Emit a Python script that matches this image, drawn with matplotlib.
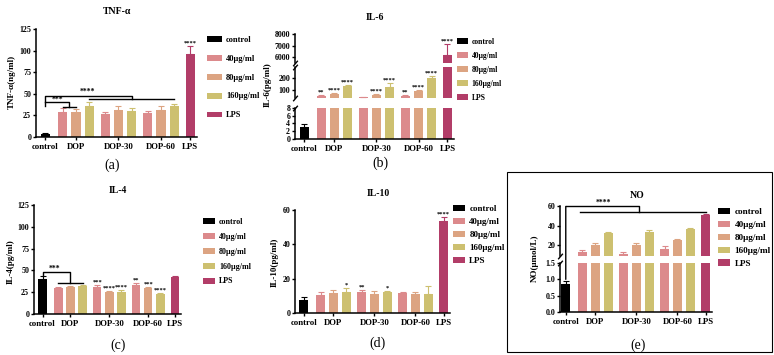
import matplotlib
matplotlib.use("Agg")
import matplotlib.pyplot as plt
from matplotlib.patches import Rectangle, ConnectionPatch

plt.rcParams["font.family"] = ["Liberation Serif", "DejaVu Serif"]
plt.rcParams["font.weight"] = "bold"
plt.rcParams["axes.linewidth"] = 1.1

# ---- data (order: control, DOP 40/80/160, DOP-30 40/80/160, DOP-60 40/80/160, LPS)
groups = ["control", "DOP", "DOP-30", "DOP-60", "LPS"]
legend_labels = ["control", "40μg/ml", "80μg/ml", "160μg/ml", "LPS"]

tnf_mean = [4.0, 29.0, 28.5, 36.0, 27.0, 31.0, 30.0, 27.3, 31.0, 35.5, 96.0]
tnf_err = [1.0, 4.0, 3.5, 4.5, 2.0, 4.5, 3.5, 3.0, 4.5, 3.0, 9.0]
tnf_stars = ["", "", "", "", "", "", "", "", "", "", "****"]

il6_mean = [3.1, 45, 64, 128, 38, 53, 122, 50, 86, 195, 6200]
il6_err = [0.8, 6, 8, 15, 4, 8, 30, 6, 12, 18, 900]
il6_stars = ["", "**", "****", "****", "", "****", "****", "**", "****", "****", "****"]

il4_mean = [40.0, 29.5, 31.2, 32.0, 31.0, 24.8, 24.8, 33.0, 29.5, 22.8, 42.6]
il4_err = [3.5, 1.5, 1.2, 1.0, 2.0, 1.5, 2.2, 2.3, 1.5, 1.8, 1.4]
il4_stars = ["", "", "", "", "***", "****", "****", "**", "***", "****", ""]

il10_mean = [7.7, 10.3, 11.4, 12.2, 12.2, 11.2, 12.0, 11.4, 11.2, 11.2, 53.8]
il10_err = [1.6, 2.1, 2.1, 2.3, 1.3, 1.4, 0.8, 0.8, 1.0, 4.7, 1.9]
il10_stars = ["", "", "", "*", "**", "", "*", "", "", "", "****"]

no_mean = [0.87, 12.6, 20.0, 32.0, 11.2, 20.7, 33.7, 16.5, 25.0, 36.5, 51.2]
no_err = [0.07, 2.1, 1.8, 1.2, 2.0, 1.1, 2.1, 2.8, 1.3, 1.0, 1.1]

c40, c80, c160, clps = "#DC8A8C", "#DCA482", "#CDC070", "#B23D68"
colors = ["black", c40, c80, c160, c40, c80, c160, c40, c80, c160, clps]

# bar positions: control, three groups of three, LPS
xpos = [0.0] + [1.3 + 3.2 * g + i for g in range(3) for i in range(3)] + [10.9]
tick_pos = [xpos[0], xpos[2], xpos[5], xpos[8], xpos[10]]

W, H = 774, 355
fig = plt.figure(figsize=(W / 100, H / 100), dpi=100)


def box(l, t, r, b):
    return [l / W, 1 - b / H, (r - l) / W, (b - t) / H]


def ftext(x, y, s, **kw):
    fig.text(x / W, 1 - y / H, s, ha="center", va="center", **kw)


def draw(ax, means, errs, bottom=True, xl=-0.7):
    bars = ax.bar(xpos, means, width=0.7, color=colors, zorder=2)
    for x, m, e, c in zip(xpos, means, errs, colors):
        ax.errorbar(x, m, yerr=[[0], [e]], color=c, lw=0.8, capsize=2,
                    capthick=0.8, zorder=1)
    for s in ["top", "right"]:
        ax.spines[s].set_visible(False)
    ax.set_xlim(xl, 11.4)
    ax.tick_params(axis="y", labelsize=5.7, length=2.5, width=1, pad=1)
    if bottom:
        ax.set_xticks(tick_pos)
        ax.set_xticklabels(groups, fontsize=6.3)
        ax.tick_params(axis="x", length=2.5, width=1, pad=2)
    else:
        ax.spines["bottom"].set_visible(False)
        ax.tick_params(axis="x", bottom=False, labelbottom=False)
    return bars


def stars(ax, means, errs, marks, lo=None):
    for x, m, e, s in zip(xpos, means, errs, marks):
        if s and (lo is None or lo[0] <= m + e < lo[1]):
            ax.annotate(s, (x, m + e), xytext=(0, 0.3), textcoords="offset points",
                        ha="center", va="bottom", fontsize=4.6)


def brk(ax, where):
    kw = dict(marker=[(-1, -1.2), (1, 1.2)], markersize=4, linestyle="none",
              color="k", mec="k", mew=1, clip_on=False, transform=ax.transAxes)
    ax.plot([0], [where], **kw)


def legend(handles, x, y, fs, hl, hh, ls):
    fig.legend(handles, legend_labels, loc="upper left",
               bbox_to_anchor=(x / W, 1 - y / H), frameon=False, fontsize=fs,
               handlelength=hl, handleheight=hh, handletextpad=0.5,
               labelspacing=ls, borderpad=0, borderaxespad=0)


def pick(bars):
    p = bars.patches
    return [p[0], p[1], p[2], p[3], p[10]]


# ---- (a) TNF-a
ax = fig.add_axes(box(36, 29, 197, 137))
bars = draw(ax, tnf_mean, tnf_err)
ax.set_ylim(0, 125)
ax.set_yticks([0, 25, 50, 75, 100, 125])
stars(ax, tnf_mean, tnf_err, tnf_stars)
lk = dict(color="black", lw=1, clip_on=False)
ax.plot([0, 0, 6.5, 6.5], [36, 47.7, 47.7, 43.8], **lk)
ax.plot([3.3, 9.7], [43.8, 43.8], **lk)
ax.plot([0, 1.8, 1.8], [40.4, 40.4, 35], **lk)
ax.plot([1.3, 2.3], [35, 35], **lk)
ax.text(3.2, 52, "****", ha="center", va="center", fontsize=5.5)
ax.text(0.9, 43.5, "***", ha="center", va="center", fontsize=5.5)
legend(pick(bars), 207, 36, 6, 1.8, 0.7, 1.3)
ftext(117, 11, "TNF-α", fontsize=7)
ftext(12, 82, "TNF-α(ng/ml)", fontsize=6.5, rotation=90)
ftext(112, 165, "(a)", fontsize=10, fontweight="normal")

# ---- (b) IL-6, broken axis
ax_t = fig.add_axes(box(295, 34, 454, 63))
ax_m = fig.add_axes(box(295, 67, 454, 98))
ax_b = fig.add_axes(box(295, 108, 454, 139))
draw(ax_t, il6_mean, il6_err, bottom=False)
draw(ax_m, il6_mean, il6_err, bottom=False)
bars = draw(ax_b, il6_mean, il6_err)
ax_t.set_ylim(5500, 8000)
ax_t.set_yticks([6000, 7000, 8000])
ax_m.set_ylim(30, 290)
ax_m.set_yticks([100, 200])
ax_b.set_ylim(0, 8)
ax_b.set_yticks([0, 2, 4, 6, 8])
stars(ax_m, il6_mean, il6_err, il6_stars, lo=(30, 1000))
stars(ax_t, il6_mean, il6_err, il6_stars, lo=(1000, 1e6))
brk(ax_t, 0)
brk(ax_m, 1)
brk(ax_m, 0)
brk(ax_b, 1)
legend(pick(bars), 457, 38, 5.5, 1.4, 0.8, 0.78)
ftext(375, 17, "IL-6", fontsize=7)
ftext(268, 85, "IL-6(pg/ml)", fontsize=6.5, rotation=90)
ftext(380, 163, "(b)", fontsize=10, fontweight="normal")

# ---- (c) IL-4
ax = fig.add_axes(box(34, 205, 181, 314))
bars = draw(ax, il4_mean, il4_err)
ax.set_ylim(0, 125)
ax.set_yticks([0, 25, 50, 75, 100, 125])
stars(ax, il4_mean, il4_err, il4_stars)
ax.plot([0, 0, 2.3, 2.3], [44, 48, 48, 36], **lk)
ax.plot([1.3, 3.3], [36, 36], **lk)
ax.text(1.0, 51.5, "***", ha="center", va="center", fontsize=5.5)
legend(pick(bars), 203, 218, 5.8, 1.5, 0.8, 0.85)
ftext(118, 191, "IL-4", fontsize=7)
ftext(11, 262, "IL-4(pg/ml)", fontsize=6.5, rotation=90)
ftext(118, 345, "(c)", fontsize=10, fontweight="normal")

# ---- (d) IL-10
ax = fig.add_axes(box(295, 210, 450, 313))
bars = draw(ax, il10_mean, il10_err)
ax.set_ylim(0, 60)
ax.set_yticks([0, 20, 40, 60])
stars(ax, il10_mean, il10_err, il10_stars)
legend(pick(bars), 453, 205, 6.5, 1.3, 0.7, 0.52)
ftext(378, 193, "IL-10", fontsize=7)
ftext(275, 262, "IL-10(pg/ml)", fontsize=6.5, rotation=90)
ftext(378, 343, "(d)", fontsize=10, fontweight="normal")

# ---- (e) NO, broken axis
ax_hi = fig.add_axes(box(560, 206, 712, 256))
ax_lo = fig.add_axes(box(560, 263, 712, 312))
draw(ax_hi, no_mean, no_err, bottom=False, xl=-0.45)
bars = draw(ax_lo, no_mean, no_err, xl=-0.45)
ax_hi.set_ylim(9, 60)
ax_hi.set_yticks([20, 40, 60])
ax_lo.set_ylim(0, 1.5)
ax_lo.set_yticks([0.0, 0.5, 1.0, 1.5])
ax_lo.set_yticklabels(["0.0", "0.5", "1.0", "1.5"])
brk(ax_hi, 0)
brk(ax_lo, 1)
ax_hi.plot([0, 5.7, 5.7], [59.5, 59.5, 54], **lk)
ax_hi.plot([1.1, 10.9], [54, 54], **lk)
ax_hi.text(2.9, 63, "****", ha="center", va="center", fontsize=5.5)
fig.add_artist(ConnectionPatch(xyA=(0, 1.0), coordsA=ax_lo.transData,
                               xyB=(0, 59.5), coordsB=ax_hi.transData,
                               color="black", lw=1))
legend(pick(bars), 718, 208, 6.6, 1.3, 0.65, 0.5)
ftext(637, 195, "NO", fontsize=7)
ftext(535, 258, "NO(μmol/L)", fontsize=6.5, rotation=90)
ftext(638, 345, "(e)", fontsize=10, fontweight="normal")
fig.add_artist(Rectangle((507 / W, 1 - 352 / H), (772 - 507) / W, (352 - 172) / H,
                         transform=fig.transFigure, fill=False, lw=0.8, ec="black"))

fig.savefig("out.png", dpi=100)
